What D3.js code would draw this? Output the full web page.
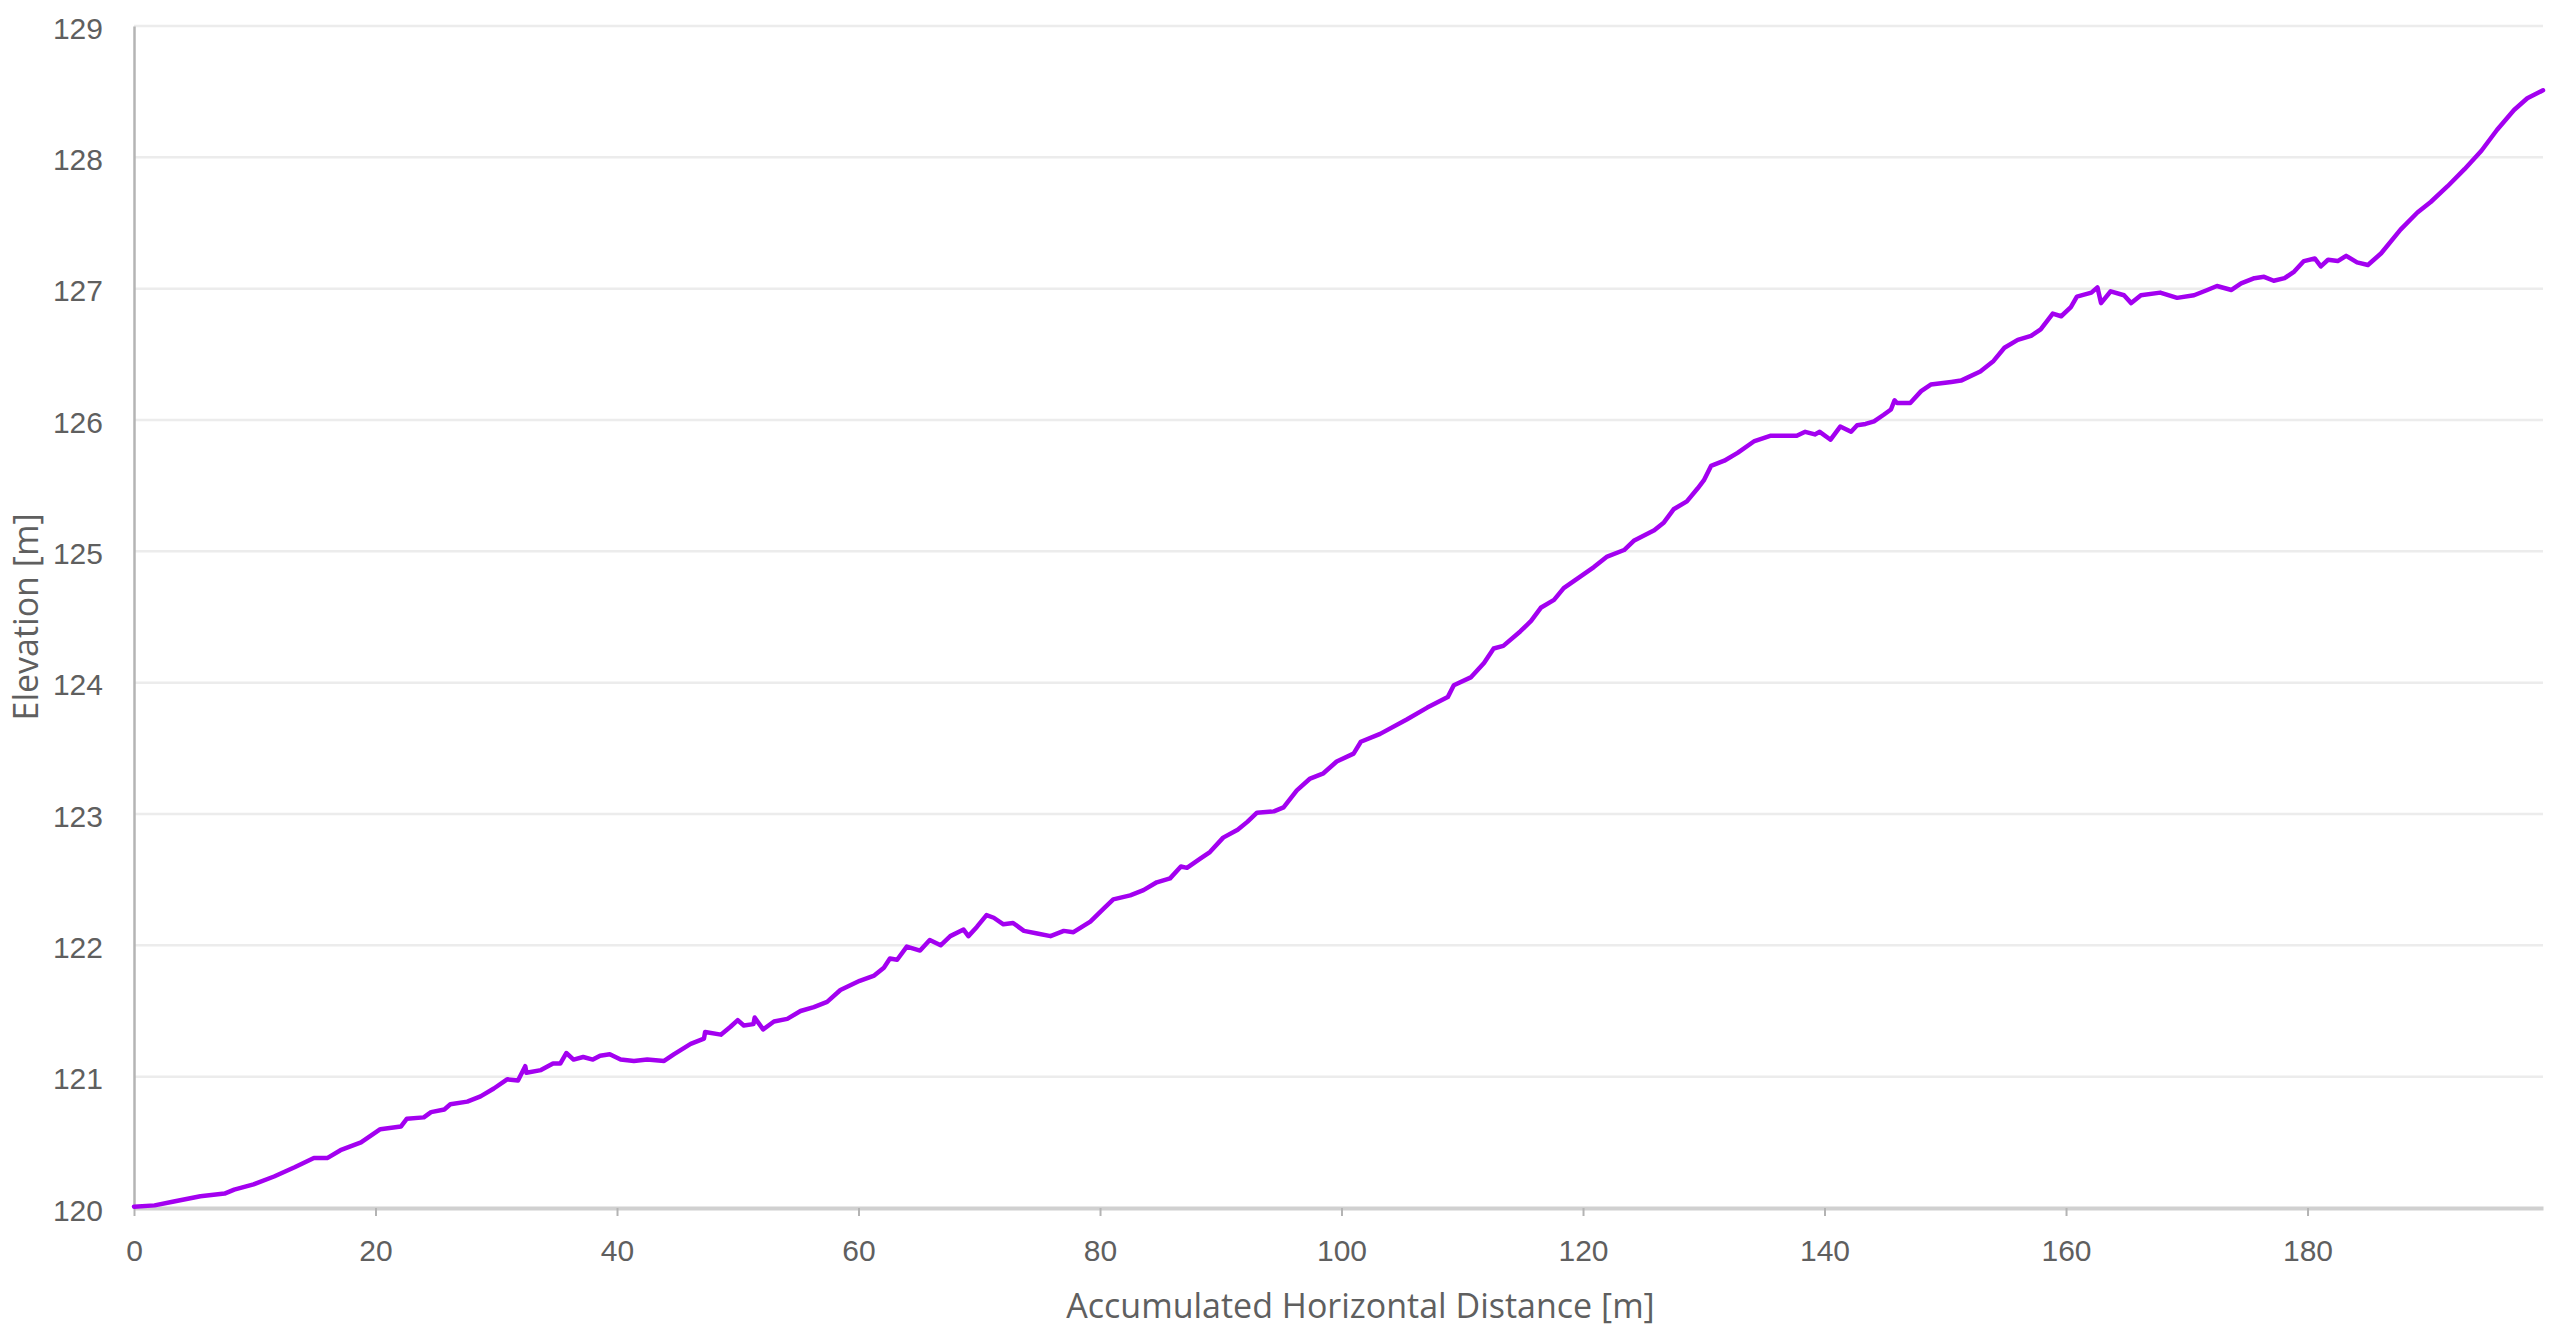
<!DOCTYPE html>
<html>
<head>
<meta charset="utf-8">
<script src="https://cdn.jsdelivr.net/npm/d3@7"></script>
<style>
  html, body { margin: 0; padding: 0; background: #fff; }
  svg { display: block; font-family: "Open Sans", "Noto Sans", sans-serif; }
</style>
</head>
<body>
<svg id="chart" width="2565" height="1342"></svg>
<script>
// ---- data ----
const distance = [0,1.7,3.3,5.5,7.5,8.3,9.9,11.6,13.3,14.9,16.0,17.1,18.8,20.4,22.1,22.6,24.0,24.6,25.7,26.2,27.6,28.7,29.8,30.9,31.8,32.4,32.5,33.7,34.7,35.3,35.8,36.4,37.2,38.0,38.6,39.4,40.3,41.4,42.5,43.9,44.7,46.1,47.2,47.3,48.6,49.4,50.0,50.5,51.3,51.4,52.1,53.0,54.1,55.2,56.3,57.4,58.5,60.1,61.3,62.1,62.6,63.2,64.0,65.1,65.9,66.8,67.6,68.7,69.1,69.8,70.6,71.2,72.0,72.8,73.7,74.8,75.9,77.0,77.8,79.2,80.3,81.1,82.5,83.6,84.7,85.8,86.7,87.2,88.3,89.1,90.2,91.4,92.2,93.0,94.4,95.2,96.3,97.4,98.5,99.6,101.0,101.6,103.2,105.4,107.1,108.8,109.3,110.7,111.8,112.6,113.4,114.8,115.7,116.5,117.6,118.4,119.8,120.9,122.0,123.4,124.2,125.9,126.7,127.5,128.6,129.5,130.0,130.6,131.7,132.8,134.2,135.5,137.7,138.4,139.2,139.6,140.5,141.3,142.2,142.7,143.4,144.1,144.9,145.5,145.8,146.0,147.1,148.0,148.8,150.5,151.3,152.9,154.0,154.9,156.0,157.1,157.9,158.9,159.6,160.4,160.9,162.1,162.6,162.9,163.7,164.8,165.4,166.2,167.8,169.2,170.6,171.7,172.5,173.7,174.5,175.6,176.4,177.2,178.1,178.9,179.7,180.6,181.1,181.7,182.5,183.2,184.1,185.0,186.1,187.7,189.1,190.2,191.6,193.0,194.4,195.7,197.1,198.2,199.5];
const elevation = [120.01,120.02,120.05,120.09,120.11,120.14,120.18,120.24,120.31,120.38,120.38,120.44,120.50,120.60,120.62,120.68,120.69,120.73,120.75,120.79,120.81,120.85,120.91,120.98,120.97,121.08,121.03,121.05,121.10,121.10,121.18,121.13,121.15,121.13,121.16,121.17,121.13,121.12,121.13,121.12,121.17,121.25,121.29,121.34,121.32,121.38,121.43,121.39,121.40,121.45,121.36,121.42,121.44,121.50,121.53,121.57,121.66,121.73,121.77,121.83,121.90,121.89,121.99,121.96,122.04,122.00,122.07,122.12,122.07,122.14,122.23,122.21,122.16,122.17,122.11,122.09,122.07,122.11,122.10,122.18,122.28,122.35,122.38,122.42,122.48,122.51,122.60,122.59,122.66,122.71,122.82,122.88,122.94,123.01,123.02,123.05,123.18,123.27,123.31,123.40,123.46,123.55,123.61,123.72,123.81,123.89,123.98,124.04,124.15,124.26,124.28,124.39,124.47,124.57,124.63,124.72,124.81,124.88,124.96,125.01,125.08,125.16,125.22,125.32,125.38,125.48,125.54,125.65,125.69,125.75,125.84,125.88,125.88,125.91,125.89,125.91,125.85,125.95,125.91,125.96,125.97,125.99,126.04,126.08,126.15,126.13,126.13,126.22,126.27,126.29,126.30,126.37,126.45,126.55,126.61,126.64,126.69,126.81,126.79,126.86,126.94,126.97,127.01,126.89,126.98,126.95,126.89,126.95,126.97,126.93,126.95,126.99,127.02,126.99,127.04,127.08,127.09,127.06,127.08,127.13,127.21,127.23,127.17,127.22,127.21,127.25,127.20,127.18,127.27,127.45,127.58,127.66,127.78,127.91,128.05,128.21,128.36,128.45,128.51];
const xTicks = [0,20,40,60,80,100,120,140,160,180];
const yTicks = [120,121,122,123,124,125,126,127,128,129];
const xTitle = "Accumulated Horizontal Distance [m]";
const yTitle = "Elevation [m]";

// ---- layout ----
const W = 2565, H = 1342;
const margin = {left: 134, right: 22, top: 26, bottom: 134};
const svg = d3.select("#chart");
const x = d3.scaleLinear().domain([0, d3.max(distance)]).range([margin.left, W - margin.right]);
const y = d3.scaleLinear().domain([120, 129]).range([H - margin.bottom, margin.top]);

const points = distance.map((d, i) => [d, elevation[i]]);

// gridlines
svg.append("g")
  .selectAll("line")
  .data(yTicks.filter(t => t > 120))
  .join("line")
  .attr("x1", x.range()[0]).attr("x2", x.range()[1])
  .attr("y1", d => y(d)).attr("y2", d => y(d))
  .attr("stroke", "#ececec").attr("stroke-width", 2.5);

// y axis
const yAxis = svg.append("g")
  .attr("transform", `translate(${margin.left},0)`)
  .call(d3.axisLeft(y).tickValues(yTicks).tickSize(0).tickSizeOuter(0).tickPadding(31).tickFormat(d3.format("d")));
yAxis.select(".domain").attr("stroke", "#b4b4b4").attr("stroke-width", 2.5);
yAxis.selectAll("text").attr("fill", "#5f5f5f").attr("font-size", 30).attr("dy", "0.4em");

// x axis
const xAxis = svg.append("g")
  .attr("transform", `translate(0,${H - margin.bottom})`)
  .call(d3.axisBottom(x).tickValues(xTicks).tickSize(8).tickSizeOuter(0).tickPadding(24).tickFormat(d3.format("d")));
xAxis.select(".domain").attr("stroke", "#d0d0d0").attr("stroke-width", 4);
xAxis.selectAll(".tick line").attr("stroke", "#b4b4b4").attr("stroke-width", 2);
xAxis.selectAll("text").attr("fill", "#5f5f5f").attr("font-size", 30);

// line
svg.append("path")
  .datum(points)
  .attr("fill", "none")
  .attr("stroke", "#a300f0")
  .attr("stroke-width", 4.5)
  .attr("stroke-linejoin", "round")
  .attr("stroke-linecap", "round")
  .attr("d", d3.line().x(d => x(d[0])).y(d => y(d[1])));

// titles
svg.append("text")
  .attr("x", (x.range()[0] + x.range()[1]) / 2 + 22)
  .attr("y", 1318)
  .attr("text-anchor", "middle")
  .attr("fill", "#5f5f5f")
  .attr("font-size", 34)
  .text(xTitle);

svg.append("text")
  .attr("transform", `translate(38,${(y.range()[0] + y.range()[1]) / 2}) rotate(-90)`)
  .attr("text-anchor", "middle")
  .attr("fill", "#5f5f5f")
  .attr("font-size", 34)
  .text(yTitle);
</script>
</body>
</html>
